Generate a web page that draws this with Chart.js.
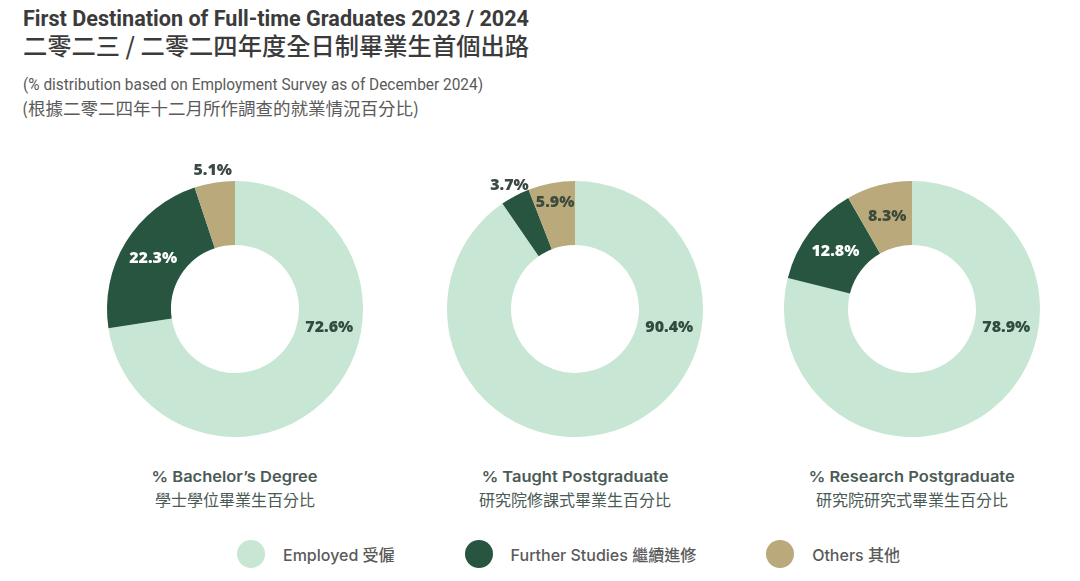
<!DOCTYPE html>
<html>
<head>
<meta charset="utf-8">
<script src="https://cdn.jsdelivr.net/npm/chart.js@4.4.1/dist/chart.umd.min.js"></script>
<style>
  html, body { margin:0; padding:0; background:#ffffff; }
  body { width:1080px; height:581px; position:relative; overflow:hidden; font-family:"Roboto","Noto Sans CJK TC",sans-serif; }
  .t { position:absolute; white-space:nowrap; transform-origin:left center; }
  .c { position:absolute; white-space:nowrap; transform-origin:center center; text-align:center; }
  .box { position:absolute; width:300px; height:300px; }
  #legend { position:absolute; left:237px; top:540px; height:28px; display:flex; align-items:center; gap:70px; }
  .li { display:flex; align-items:center; }
  .dot { width:28px; height:28px; border-radius:50%; margin-right:18px; }
  .lt { font-family:"Inter","Noto Sans CJK TC",sans-serif; font-weight:500; font-size:16px; color:#5a5a5a; white-space:nowrap; }
</style>
</head>
<body>
<script>
// ---------- data ----------
const categories = ['Employed 受僱', 'Further Studies 繼續進修', 'Others 其他'];
const programmes = ['% Bachelor’s Degree', '% Taught Postgraduate', '% Research Postgraduate'];
const programmesZh = ['學士學位畢業生百分比', '研究院修課式畢業生百分比', '研究院研究式畢業生百分比'];
const bachelorValues = [72.6, 22.3, 5.1];
const taughtPgValues = [90.4, 3.7, 5.9];
const researchPgValues = [78.9, 12.8, 8.3];
const titleEn = 'First Destination of Full-time Graduates 2023 / 2024';
const titleZh = '二零二三 / 二零二四年度全日制畢業生首個出路';
const subtitleEn = '(% distribution based on Employment Survey as of December 2024)';
const subtitleZh = '(根據二零二四年十二月所作調查的就業情況百分比)';
</script>

<div class="t" id="t1" data-w="506" style="left:23px;top:8px;font:700 22px/22px Roboto,sans-serif;color:#3b3b3b;"></div>
<div class="t" id="t2" data-w="506" style="left:23px;top:33px;font:500 24px/24px 'Noto Sans CJK TC',sans-serif;color:#3b3b3b;"></div>
<div class="t" id="t3" data-w="460" style="left:23px;top:77px;font:400 16px/16px Roboto,sans-serif;color:#5a5a5a;"></div>
<div class="t" id="t4" data-w="397" style="left:22px;top:99px;font:400 17px/17px 'Noto Sans CJK TC',sans-serif;color:#5a5a5a;"></div>

<div class="box" style="left:85px;top:159px;"><canvas id="c0"></canvas></div>
<div class="box" style="left:425px;top:159px;"><canvas id="c1"></canvas></div>
<div class="box" style="left:762px;top:159px;"><canvas id="c2"></canvas></div>

<div id="caps"></div>
<div id="legend"></div>

<script>
const colors = ['#c7e6d3', '#27553f', '#b9a97b'];
const labelColors = ['#2e4d40', '#ffffff', '#3d4a3c'];
const outsideLabelColor = '#3c4a44';
const PRIMARY_LABEL_ANGLE = 11 * Math.PI / 180; // label of the main slice sits at the right side

document.getElementById('t1').textContent = titleEn;
document.getElementById('t2').textContent = titleZh;
document.getElementById('t3').textContent = subtitleEn;
document.getElementById('t4').textContent = subtitleZh;

// captions
const capCenters = [235, 575, 912];
const caps = document.getElementById('caps');
const capEls = [];
programmes.forEach((p, i) => {
  const a = document.createElement('div');
  a.className = 'c'; a.textContent = p;
  a.style.cssText = `top:469px;font:600 15px/16px Inter,sans-serif;color:#4b5a55;`;
  a.dataset.cx = capCenters[i];
  caps.appendChild(a); capEls.push(a);
  const b = document.createElement('div');
  b.className = 'c'; b.textContent = programmesZh[i];
  b.style.cssText = `top:490px;font:400 16px/18px 'Noto Sans CJK TC',sans-serif;color:#4b5a55;`;
  b.dataset.cx = capCenters[i];
  caps.appendChild(b);
});

// legend
const lg = document.getElementById('legend');
categories.forEach((c, i) => {
  const it = document.createElement('div'); it.className = 'li';
  const d = document.createElement('div'); d.className = 'dot'; d.style.background = colors[i];
  const s = document.createElement('span'); s.className = 'lt'; s.textContent = c;
  it.appendChild(d); it.appendChild(s); lg.appendChild(it);
});

// fit helpers
document.querySelectorAll('.t[data-w]').forEach(el => {
  const w = el.getBoundingClientRect().width;
  el.style.transform = `scaleX(${(+el.dataset.w / w).toFixed(4)})`;
});
const capScale = 166 / capEls[0].getBoundingClientRect().width;
document.querySelectorAll('.c').forEach(el => {
  const w = el.getBoundingClientRect().width;
  el.style.left = (+el.dataset.cx - w / 2) + 'px';
  if (capEls.includes(el)) el.style.transform = `scaleX(${capScale.toFixed(4)})`;
});

const labelPlugin = {
  id: 'sliceLabels',
  afterDatasetsDraw(chart) {
    const ctx = chart.ctx;
    const meta = chart.getDatasetMeta(0);
    const data = chart.data.datasets[0].data;
    ctx.save();
    ctx.font = '800 16px "Open Sans", sans-serif';
    ctx.textAlign = 'center';
    ctx.textBaseline = 'middle';
    meta.data.forEach((arc, i) => {
      const p = arc.getProps(['x', 'y', 'startAngle', 'endAngle', 'innerRadius', 'outerRadius'], true);
      const v = data[i];
      let ang = (p.startAngle + p.endAngle) / 2;
      let r = (p.innerRadius + p.outerRadius) / 2;
      let col = labelColors[i];
      if (i === 0) ang = PRIMARY_LABEL_ANGLE;
      if (v < 5.5) { r = p.outerRadius + 12; col = outsideLabelColor; }
      else if (v < 7) { r += 12; }
      ctx.fillStyle = col;
      ctx.fillText(v.toFixed(1) + '%', p.x + Math.cos(ang) * r, p.y + Math.sin(ang) * r);
    });
    ctx.restore();
  }
};

function makeChart(id, values) {
  new Chart(document.getElementById(id), {
    type: 'doughnut',
    data: { labels: categories, datasets: [{ data: values, backgroundColor: colors, borderWidth: 0 }] },
    options: {
      responsive: true, maintainAspectRatio: false, animation: false,
      cutout: '50%',
      layout: { padding: 22 },
      plugins: { legend: { display: false }, tooltip: { enabled: false } }
    },
    plugins: [labelPlugin]
  });
}
makeChart('c0', bachelorValues);
makeChart('c1', taughtPgValues);
makeChart('c2', researchPgValues);
</script>
</body>
</html>
